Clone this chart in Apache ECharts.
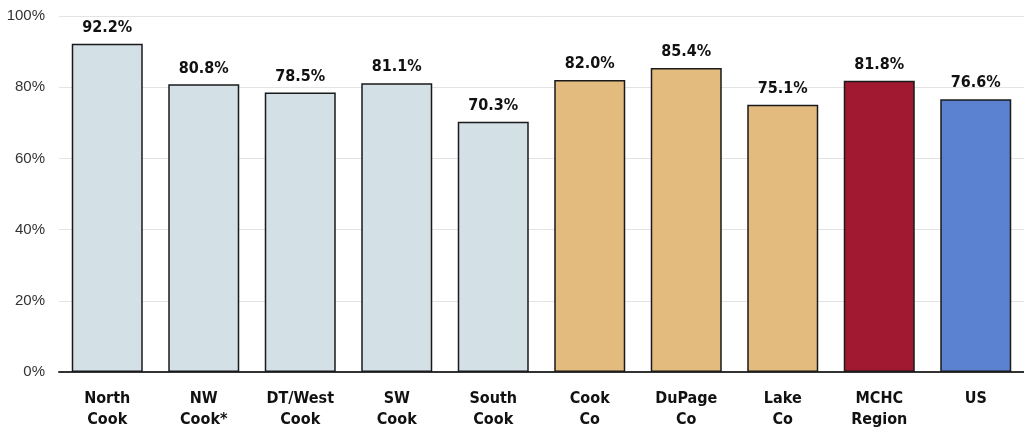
<!DOCTYPE html>
<html><head><meta charset="utf-8">
<script src="https://cdn.jsdelivr.net/npm/echarts@6/dist/echarts.min.js"></script>
<style>html,body{margin:0;padding:0;background:#fff}#c{width:1024px;height:430px}</style>
</head><body><div id="c"></div>
<script>
const categories = ["North\nCook","NW\nCook*","DT/West\nCook","SW\nCook","South\nCook","Cook\nCo","DuPage\nCo","Lake\nCo","MCHC\nRegion","US"];
const values = [92.2, 80.8, 78.5, 81.1, 70.3, 82.0, 85.4, 75.1, 81.8, 76.6];
const barColors = ["#d3e1e6","#d3e1e6","#d3e1e6","#d3e1e6","#d3e1e6","#e4bb7e","#e4bb7e","#e4bb7e","#a01930","#5a82d0"];
const yTicks = [0, 20, 40, 60, 80, 100];
const FONT = '"Liberation Sans Narrow", "Arial Narrow", "DejaVu Sans Condensed", "Liberation Sans", Arial, sans-serif';
const FONT_Y = '"Liberation Sans", Arial, sans-serif';
const chart = echarts.init(document.getElementById('c'), null, {renderer:'canvas'});
chart.setOption({
  animation:false,
  grid:{left:59, top:16, width:975, height:357, containLabel:false},
  xAxis:{type:'category', data:categories,
    axisLine:{lineStyle:{color:'#333', width:2}}, axisTick:{show:false},
    axisLabel:{color:'#111', fontFamily:FONT, fontWeight:'bold', fontSize:16, lineHeight:21, margin:16, interval:0}},
  yAxis:{type:'value', min:yTicks[0], max:yTicks[yTicks.length-1], interval:20,
    axisLine:{show:false}, axisTick:{show:false},
    splitLine:{lineStyle:{color:'#e3e3e3', width:1}},
    axisLabel:{formatter:'{value}%', color:'#333', fontFamily:FONT_Y, fontSize:15, margin:14}},
  series:[{type:'bar', barWidth:71,
    data: values.map((v,i)=>({value:v, itemStyle:{color:barColors[i]}})),
    itemStyle:{borderColor:'#1a1a1a', borderWidth:1.5},
    label:{show:true, position:'top', distance:8, formatter:p=>p.value.toFixed(1)+'%',
      color:'#111', fontFamily:FONT, fontWeight:'bold', fontSize:16}
  }]
});
</script></body></html>
